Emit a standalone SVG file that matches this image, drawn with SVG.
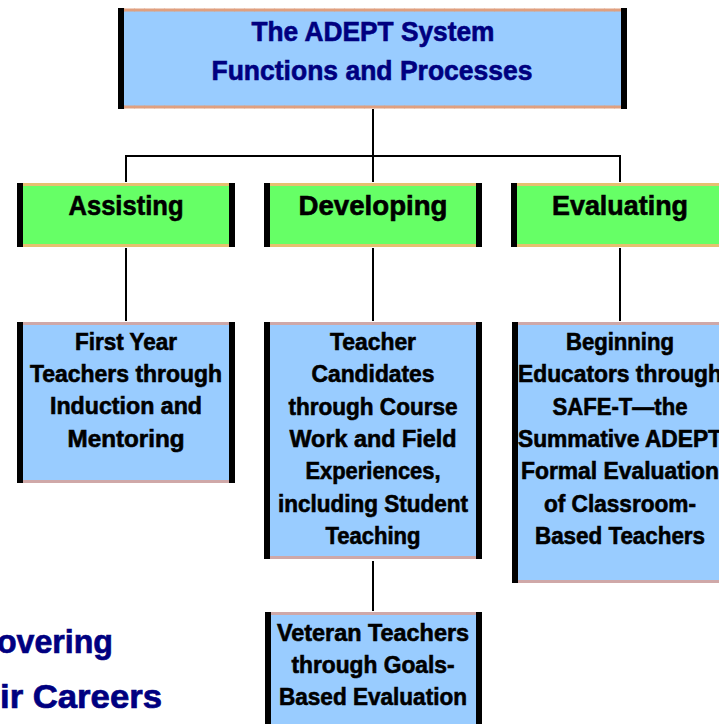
<svg xmlns="http://www.w3.org/2000/svg" width="719" height="724" viewBox="0 0 719 724">
<style>
.blue{fill:#99CCFF}
.green{fill:#66FF66}
.bar{fill:#000000}
.bt{stroke:#E0A080;stroke-width:3}
.bb{stroke:#CFA8A8;stroke-width:3}
.bg{stroke:#E6C070;stroke-width:3}
.tick{stroke-width:3;stroke-dasharray:1 9;opacity:0.7}
.t{font-family:"Liberation Sans",Arial,sans-serif;font-weight:bold;text-anchor:middle;fill:#000000;stroke:#000000;stroke-width:0.6}
.title{font-size:27px;fill:#000080;stroke:#000080}
.lab{font-size:27px}
.body{font-size:23px}
.bg-text{font-family:"Liberation Sans",Arial,sans-serif;font-weight:bold;font-size:34px;fill:#000080;stroke:#000080;stroke-width:0.7;text-anchor:end}
.conn{stroke:#000000;stroke-width:2;fill:none}
</style>

<g id="background-text">
<text class="bg-text" x="113" y="653" textLength="116" lengthAdjust="spacingAndGlyphs">overing</text>
<text class="bg-text" x="162" y="708" textLength="162" lengthAdjust="spacingAndGlyphs">ir Careers</text>
</g>

<g id="connectors">
<path class="conn" d="M373 109 V156 M126 156 H620 M126 155 V182 M373 156 V182 M620 155 V182"/>
<path class="conn" d="M126 248 V321 M373 248 V321 M620 248 V321"/>
<path class="conn" d="M373 561 V611"/>
</g>

<g id="node-top">
<rect class="blue" x="118" y="9" width="509" height="99"/>
<line class="bt" x1="124" y1="10" x2="621" y2="10"/>
<line class="bt" x1="124" y1="107" x2="621" y2="107"/>
<line class="bt tick" stroke="#C07050" x1="124" y1="10" x2="621" y2="10"/>
<line class="bt tick" stroke="#C07050" x1="124" y1="107" x2="621" y2="107"/>
<rect class="bar" x="118" y="8" width="6" height="101"/>
<rect class="bar" x="621" y="8" width="6" height="101"/>
<text class="t title" x="373" y="41" textLength="243" lengthAdjust="spacingAndGlyphs">The ADEPT System</text>
<text class="t title" x="372" y="80" textLength="321" lengthAdjust="spacingAndGlyphs">Functions and Processes</text>
</g>

<g id="node-assisting">
<rect class="green" x="17" y="183" width="218" height="64"/>
<line class="bg" x1="23" y1="184.5" x2="229" y2="184.5"/>
<line class="bg" x1="23" y1="245.5" x2="229" y2="245.5"/>
<rect class="bar" x="17" y="183" width="6" height="64"/>
<rect class="bar" x="229" y="183" width="6" height="64"/>
<text class="t lab" x="126" y="215" textLength="115" lengthAdjust="spacingAndGlyphs">Assisting</text>
</g>

<g id="node-developing">
<rect class="green" x="264" y="183" width="218" height="64"/>
<line class="bg" x1="270" y1="184.5" x2="476" y2="184.5"/>
<line class="bg" x1="270" y1="245.5" x2="476" y2="245.5"/>
<rect class="bar" x="264" y="183" width="6" height="64"/>
<rect class="bar" x="476" y="183" width="6" height="64"/>
<text class="t lab" x="373" y="215" textLength="149" lengthAdjust="spacingAndGlyphs">Developing</text>
</g>

<g id="node-evaluating">
<rect class="green" x="511" y="183" width="218" height="64"/>
<line class="bg" x1="517" y1="184.5" x2="729" y2="184.5"/>
<line class="bg" x1="517" y1="245.5" x2="729" y2="245.5"/>
<rect class="bar" x="511" y="183" width="6" height="64"/>
<text class="t lab" x="620" y="215" textLength="136" lengthAdjust="spacingAndGlyphs">Evaluating</text>
</g>

<g id="node-first-year">
<rect class="blue" x="17" y="322" width="218" height="161"/>
<line class="bb" x1="23" y1="323.5" x2="229" y2="323.5"/>
<line class="bb" x1="23" y1="481.5" x2="229" y2="481.5"/>
<rect class="bar" x="17" y="322" width="6" height="161"/>
<rect class="bar" x="229" y="322" width="6" height="161"/>
<text class="t body" x="126" y="350" textLength="102" lengthAdjust="spacingAndGlyphs">First Year</text>
<text class="t body" x="126" y="382" textLength="192" lengthAdjust="spacingAndGlyphs">Teachers through</text>
<text class="t body" x="126" y="414" textLength="152" lengthAdjust="spacingAndGlyphs">Induction and</text>
<text class="t body" x="126" y="447" textLength="117" lengthAdjust="spacingAndGlyphs">Mentoring</text>
</g>

<g id="node-teacher-candidates">
<rect class="blue" x="264" y="322" width="218" height="237"/>
<line class="bb" x1="270" y1="323.5" x2="476" y2="323.5"/>
<line class="bb" x1="270" y1="557.5" x2="476" y2="557.5"/>
<rect class="bar" x="264" y="322" width="6" height="237"/>
<rect class="bar" x="476" y="322" width="6" height="237"/>
<text class="t body" x="373" y="350" textLength="86" lengthAdjust="spacingAndGlyphs">Teacher</text>
<text class="t body" x="373" y="382" textLength="123" lengthAdjust="spacingAndGlyphs">Candidates</text>
<text class="t body" x="373" y="415" textLength="169" lengthAdjust="spacingAndGlyphs">through Course</text>
<text class="t body" x="373" y="447" textLength="167" lengthAdjust="spacingAndGlyphs">Work and Field</text>
<text class="t body" x="373" y="479" textLength="135" lengthAdjust="spacingAndGlyphs">Experiences,</text>
<text class="t body" x="373" y="512" textLength="190" lengthAdjust="spacingAndGlyphs">including Student</text>
<text class="t body" x="373" y="544" textLength="95" lengthAdjust="spacingAndGlyphs">Teaching</text>
</g>

<g id="node-beginning-educators">
<rect class="blue" x="512" y="322" width="217" height="261"/>
<line class="bb" x1="518" y1="323.5" x2="729" y2="323.5"/>
<line class="bb" x1="518" y1="581.5" x2="729" y2="581.5"/>
<rect class="bar" x="512" y="322" width="6" height="261"/>
<text class="t body" x="620" y="350" textLength="108" lengthAdjust="spacingAndGlyphs">Beginning</text>
<text class="t body" x="620" y="382" textLength="204" lengthAdjust="spacingAndGlyphs">Educators through</text>
<text class="t body" x="620" y="415" textLength="135" lengthAdjust="spacingAndGlyphs">SAFE-T—the</text>
<text class="t body" x="620" y="447" textLength="204" lengthAdjust="spacingAndGlyphs">Summative ADEPT</text>
<text class="t body" x="620" y="479" textLength="198" lengthAdjust="spacingAndGlyphs">Formal Evaluation</text>
<text class="t body" x="620" y="512" textLength="152" lengthAdjust="spacingAndGlyphs">of Classroom-</text>
<text class="t body" x="620" y="544" textLength="170" lengthAdjust="spacingAndGlyphs">Based Teachers</text>
</g>

<g id="node-veteran">
<rect class="blue" x="265" y="612" width="217" height="120"/>
<line class="bb" x1="271" y1="613.5" x2="476" y2="613.5"/>
<rect class="bar" x="265" y="612" width="6" height="120"/>
<rect class="bar" x="476" y="612" width="6" height="120"/>
<text class="t body" x="373" y="641" textLength="192" lengthAdjust="spacingAndGlyphs">Veteran Teachers</text>
<text class="t body" x="373" y="673" textLength="163" lengthAdjust="spacingAndGlyphs">through Goals-</text>
<text class="t body" x="373" y="705" textLength="188" lengthAdjust="spacingAndGlyphs">Based Evaluation</text>
</g>
</svg>
